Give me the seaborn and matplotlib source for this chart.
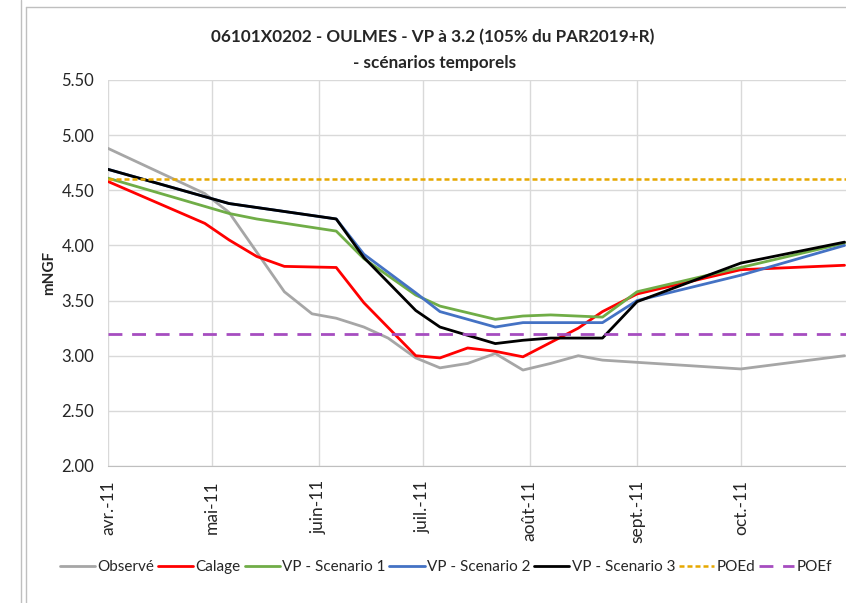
import pandas as pd
import numpy as np
import matplotlib.pyplot as plt
from matplotlib.lines import Line2D
import seaborn as sns

sns.set_style("white")
plt.rcParams['font.family'] = ['Lato', 'DejaVu Sans']

# Observed
obs_dates = ["2011-04-01", "2011-04-29", "2011-05-06", "2011-05-22", "2011-05-30",
             "2011-06-06", "2011-06-14", "2011-06-21", "2011-06-29", "2011-07-06",
             "2011-07-14", "2011-07-22", "2011-07-30", "2011-08-07", "2011-08-15",
             "2011-08-22", "2011-09-01", "2011-10-01", "2011-10-31"]
obs_vals = [4.88, 4.47, 4.30, 3.58, 3.38, 3.34, 3.26, 3.16, 2.98, 2.89,
            2.93, 3.02, 2.87, 2.93, 3.00, 2.96, 2.94, 2.88, 3.00]

# Calage
cal_dates = ["2011-04-01", "2011-04-29", "2011-05-06", "2011-05-14", "2011-05-22",
             "2011-06-06", "2011-06-14", "2011-06-29", "2011-07-06", "2011-07-14",
             "2011-07-22", "2011-07-30", "2011-08-07", "2011-08-15", "2011-08-22",
             "2011-09-01", "2011-10-01", "2011-10-31"]
cal_vals = [4.58, 4.20, 4.05, 3.90, 3.81, 3.80, 3.48, 3.00, 2.98, 3.07,
            3.04, 2.99, 3.12, 3.25, 3.40, 3.56, 3.78, 3.82]

# VP - Scenario 1
sc1_dates = ["2011-04-01", "2011-05-06", "2011-05-14", "2011-06-06", "2011-06-14",
             "2011-06-29", "2011-07-06", "2011-07-22", "2011-07-30", "2011-08-07",
             "2011-08-22", "2011-09-01", "2011-10-01", "2011-10-31"]
sc1_vals = [4.61, 4.29, 4.24, 4.13, 3.88, 3.55, 3.45, 3.33, 3.36, 3.37,
            3.35, 3.58, 3.80, 4.02]

# VP - Scenario 2
sc2_dates = ["2011-04-01", "2011-05-06", "2011-06-06", "2011-06-14", "2011-06-29",
             "2011-07-06", "2011-07-22", "2011-07-30", "2011-08-22", "2011-09-01",
             "2011-10-01", "2011-10-31"]
sc2_vals = [4.69, 4.38, 4.24, 3.92, 3.57, 3.40, 3.26, 3.30, 3.30, 3.50, 3.73, 4.00]

# VP - Scenario 3
sc3_dates = ["2011-04-01", "2011-05-06", "2011-06-06", "2011-06-14", "2011-06-29",
             "2011-07-06", "2011-07-22", "2011-07-30", "2011-08-07", "2011-08-22",
             "2011-09-01", "2011-10-01", "2011-10-31"]
sc3_vals = [4.69, 4.38, 4.24, 3.89, 3.41, 3.26, 3.11, 3.14, 3.16, 3.16,
            3.49, 3.84, 4.03]

poed = 4.60
poef = 3.20

month_ticks = ["2011-04-01", "2011-05-01", "2011-06-01", "2011-07-01",
               "2011-08-01", "2011-09-01", "2011-10-01"]
month_labels = ["avr.-11", "mai-11", "juin-11", "juil.-11", "août-11", "sept.-11", "oct.-11"]
y_ticks = [2.0, 2.5, 3.0, 3.5, 4.0, 4.5, 5.0, 5.5]

fig = plt.figure(figsize=(8.46, 6.03), dpi=100)
ax = fig.add_axes([108/846, 1-466/603, 740/846, 386/603])

sns.lineplot(x=pd.to_datetime(obs_dates), y=obs_vals, color="#A6A6A6", lw=2, ax=ax, label="Observé")
sns.lineplot(x=pd.to_datetime(cal_dates), y=cal_vals, color="#FF0000", lw=2, ax=ax, label="Calage")
sns.lineplot(x=pd.to_datetime(sc1_dates), y=sc1_vals, color="#70AD47", lw=2, ax=ax, label="VP - Scenario 1")
sns.lineplot(x=pd.to_datetime(sc2_dates), y=sc2_vals, color="#4472C4", lw=2, ax=ax, label="VP - Scenario 2")
sns.lineplot(x=pd.to_datetime(sc3_dates), y=sc3_vals, color="#000000", lw=2, ax=ax, label="VP - Scenario 3")
ax.axhline(poed, color="#E6A800", lw=1.8, ls=(0, (2, 1.2)), label="POEd")
ax.axhline(poef, color="#A64DC0", lw=2, ls=(0, (5, 3.5)), label="POEf")

ax.set_xlim(pd.Timestamp("2011-04-01"), pd.Timestamp("2011-11-01"))
ax.set_ylim(2.0, 5.5)
ax.set_yticks(y_ticks)
ax.set_yticklabels([f"{v:.2f}" for v in y_ticks], fontsize=12)
ax.set_xticks(pd.to_datetime(month_ticks))
ax.set_xticklabels(month_labels, rotation=90, fontsize=12.5)
ax.tick_params(axis='both', length=0, pad=10)
ax.grid(True, color="#D9D9D9", lw=1)
ax.set_axisbelow(True)
for s in ["top", "right", "left"]:
    ax.spines[s].set_visible(False)
ax.spines["bottom"].set_color("#BFBFBF")
ax.set_xlabel("")
ax.set_ylabel("mNGF", fontsize=11, fontweight="bold", labelpad=4)

fig.text(433/846, 1-37/603, "06101X0202 - OULMES - VP à 3.2 (105% du PAR2019+R)",
         ha="center", va="center", fontsize=12.3, fontweight="bold")
fig.text(435/846, 1-63/603, "- scénarios temporels",
         ha="center", va="center", fontsize=12.3, fontweight="bold")

h, l = ax.get_legend_handles_labels()
ax.legend_.remove()
fig.legend(h, l, loc="center", bbox_to_anchor=(446/846, 1-567/603), ncol=7, frameon=False,
           fontsize=11, handlelength=2.3, columnspacing=0.25, handletextpad=0.15)

# screenshot frame lines
fig.add_artist(Line2D([21/846, 21/846], [0, 1], color="#BFBFBF", lw=1))
fig.add_artist(Line2D([26/846, 26/846], [0, 1-7/603], color="#BFBFBF", lw=1))
fig.add_artist(Line2D([26/846, 1], [1-7/603, 1-7/603], color="#BFBFBF", lw=1))

fig.savefig("out.png", dpi=100)
